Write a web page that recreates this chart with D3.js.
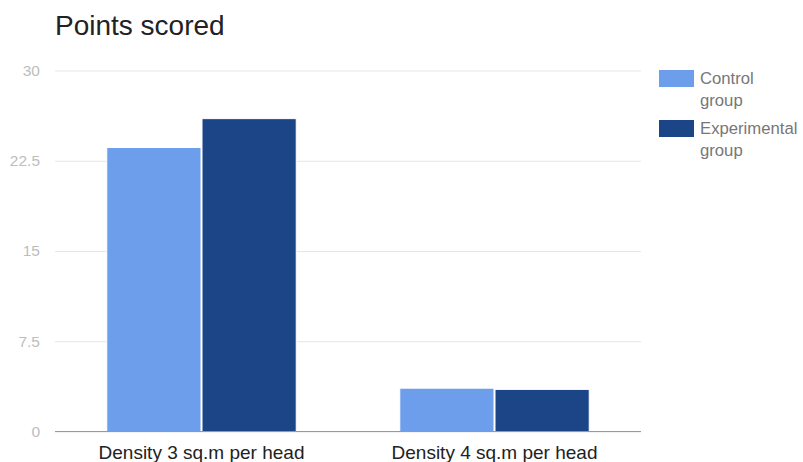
<!DOCTYPE html>
<html>
<head>
<meta charset="utf-8">
<script src="https://cdn.jsdelivr.net/npm/d3@7"></script>
<style>
  html, body { margin: 0; padding: 0; background: #fff; }
  svg { display: block; font-family: "Liberation Sans", Arial, sans-serif; }
</style>
</head>
<body>
<svg id="chart" width="803" height="462"></svg>
<script>
// Chart data
const categories = ["Density 3 sq.m per head", "Density 4 sq.m per head"];
const seriesNames = ["Control group", "Experimental group"];
const controlValues = [23.6, 3.6];
const experimentalValues = [26, 3.5];
const yTicks = [0, 7.5, 15, 22.5, 30];
const seriesColors = ["#6d9eeb", "#1c4587"];

const FONT = "'Liberation Sans', Arial, sans-serif";
const svg = d3.select("#chart");
const margin = { left: 55, right: 162, top: 70.5, bottom: 30.5 };
const width = 803, height = 462;
const plotW = width - margin.left - margin.right;
const plotH = height - margin.top - margin.bottom;

const rows = categories.map((c, i) => ({
  category: c,
  values: [controlValues[i], experimentalValues[i]]
}));

const x0 = d3.scaleBand().domain(categories).range([0, plotW]).paddingInner(0.35).paddingOuter(0.175);
const x1 = d3.scaleBand().domain(seriesNames).range([0, x0.bandwidth()]);
const y = d3.scaleLinear().domain([0, 30]).range([plotH, 0]);

// Title
svg.append("text")
  .attr("x", 55).attr("y", 35)
  .attr("font-family", FONT)
  .attr("font-size", 28)
  .attr("fill", "#222")
  .text("Points scored");

const g = svg.append("g").attr("transform", `translate(${margin.left},${margin.top})`);

// Gridlines and y tick labels
const yAxis = d3.axisLeft(y).tickValues(yTicks).tickSize(-plotW).tickFormat(d => String(d)).tickPadding(15);
const ya = g.append("g").call(yAxis);
ya.select(".domain").remove();
ya.selectAll(".tick line").attr("stroke", "#e5e5e5").attr("stroke-width", 1);
ya.selectAll(".tick text")
  .attr("fill", "#bdbdbd")
  .attr("font-size", 15.5)
  .attr("font-family", FONT);

// Bars
const groups = g.selectAll("g.cat").data(rows).join("g")
  .attr("class", "cat")
  .attr("transform", d => `translate(${x0(d.category)},0)`);

groups.selectAll("rect").data(d => d.values.map((v, i) => ({ key: seriesNames[i], value: v, idx: i })))
  .join("rect")
  .attr("x", d => x1(d.key) + 0.5)
  .attr("width", x1.bandwidth() - 1)
  .attr("y", d => y(d.value))
  .attr("height", d => y(0) - y(d.value))
  .attr("fill", d => seriesColors[d.idx])
  .attr("stroke", "#fff")
  .attr("stroke-width", 1);

// Baseline and category labels
const xAxis = d3.axisBottom(x0).tickSize(0).tickPadding(14);
const xa = g.append("g").attr("transform", `translate(0,${plotH})`).call(xAxis);
xa.select(".domain").attr("stroke", "#999").attr("d", `M0,0H${plotW}`);
xa.selectAll(".tick text")
  .attr("fill", "#222")
  .attr("font-size", 19)
  .attr("font-family", FONT);

// Legend
const legend = svg.append("g").attr("transform", "translate(659,70)");
const legendLines = [["Control", "group"], ["Experimental", "group"]];
legendLines.forEach((lines, i) => {
  const item = legend.append("g").attr("transform", `translate(0,${i * 50})`);
  item.append("rect").attr("width", 35).attr("height", 17).attr("fill", seriesColors[i]);
  const t = item.append("text").attr("x", 41).attr("y", 14)
    .attr("font-family", FONT)
    .attr("font-size", 16.7).attr("fill", "#777");
  lines.forEach((ln, j) => t.append("tspan").attr("x", 41).attr("dy", j === 0 ? 0 : 22).text(ln));
});
</script>
</body>
</html>
